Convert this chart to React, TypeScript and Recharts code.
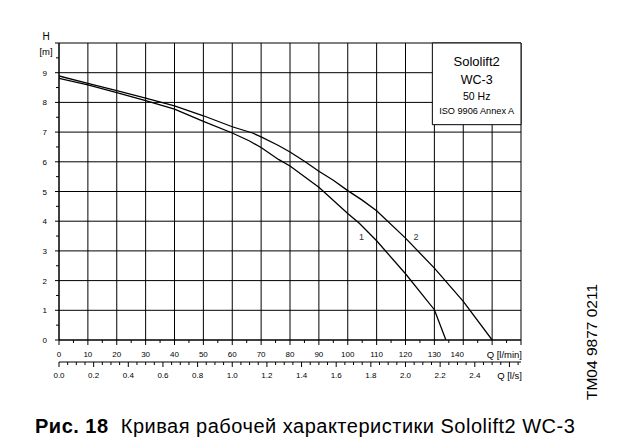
import type { ReactElement } from 'react';
import {
  CartesianGrid,
  Line,
  LineChart,
  ReferenceArea,
  ReferenceDot,
  XAxis,
  YAxis,
} from 'recharts';

// Curve 1 / curve 2 (Q in l/min, H in m).
const curve1 = [
  { q: 0, h: 8.81 },
  { q: 10, h: 8.59 },
  { q: 20, h: 8.33 },
  { q: 30, h: 8.06 },
  { q: 40, h: 7.77 },
  { q: 50, h: 7.36 },
  { q: 60, h: 6.97 },
  { q: 66, h: 6.7 },
  { q: 70, h: 6.48 },
  { q: 76, h: 6.08 },
  { q: 80, h: 5.86 },
  { q: 90, h: 5.14 },
  { q: 100, h: 4.26 },
  { q: 104, h: 3.93 },
  { q: 110, h: 3.34 },
  { q: 120, h: 2.23 },
  { q: 130, h: 1.02 },
  { q: 134, h: 0 },
];

const curve2 = [
  { q: 0, h: 8.89 },
  { q: 10, h: 8.64 },
  { q: 20, h: 8.4 },
  { q: 30, h: 8.14 },
  { q: 40, h: 7.88 },
  { q: 50, h: 7.55 },
  { q: 60, h: 7.18 },
  { q: 67, h: 6.97 },
  { q: 70, h: 6.84 },
  { q: 76, h: 6.55 },
  { q: 80, h: 6.33 },
  { q: 85, h: 6.02 },
  { q: 90, h: 5.68 },
  { q: 95, h: 5.38 },
  { q: 100, h: 5.03 },
  { q: 105, h: 4.71 },
  { q: 110, h: 4.35 },
  { q: 120, h: 3.43 },
  { q: 130, h: 2.42 },
  { q: 140, h: 1.3 },
  { q: 150, h: 0 },
];

const qTicks = [
  0, 5, 10, 15, 20, 25, 30, 35, 40, 45, 50, 55, 60, 65, 70, 75, 80, 85, 90, 95,
  100, 105, 110, 115, 120, 125, 130, 135, 140, 145, 150, 155, 160,
];
const qLabels = [0, 10, 20, 30, 40, 50, 60, 70, 80, 90, 100, 110, 120, 130, 140];
const qGrid = [0, 10, 20, 30, 40, 50, 60, 70, 80, 90, 100, 110, 120, 130, 140, 150, 160];

const hTicks = [0, 0.5, 1, 1.5, 2, 2.5, 3, 3.5, 4, 4.5, 5, 5.5, 6, 6.5, 7, 7.5, 8, 8.5, 9, 9.5, 10];
const hLabels = [0, 1, 2, 3, 4, 5, 6, 7, 8, 9];
const hGrid = [0, 1, 2, 3, 4, 5, 6, 7, 8, 9, 10];

const lsLabels = ['0.0', '0.2', '0.4', '0.6', '0.8', '1.0', '1.2', '1.4', '1.6', '1.8', '2.0', '2.2', '2.4'];
const LS_MAX = 160 / 60;
// minor ticks every 0.05 l/s along the second axis
const lsTicks = Array.from({ length: 54 }, (_, i) => Math.round(i * 5) / 100);

// curve 2 again in l/s so the second Q axis has a series bound to it
const curve2Ls = curve2.map((p) => ({ qs: p.q / 60, h: p.h }));

const legendLines = ['Sololift2', 'WC-3', '50 Hz', 'ISO 9906 Annex A'];

const FONT = '"Liberation Sans", Arial, sans-serif';

function QTick({ x, y, payload }: any): ReactElement {
  const v = payload.value as number;
  const major = v % 10 === 0;
  const label = qLabels.includes(v);
  return (
    <g>
      <line x1={x} y1={y} x2={x} y2={y + (major ? 5 : 3)} stroke="#000" />
      {label && (
        <text x={v === 140 ? x - 6 : x} y={y + 17} textAnchor="middle" fontSize={8} fontFamily={FONT} fill="#000">
          {v}
        </text>
      )}
    </g>
  );
}

function LsTick({ x, y, payload }: any): ReactElement {
  const v = payload.value as number;
  const idx = Math.round(v * 5);
  const major = Math.abs(v * 5 - idx) < 1e-6;
  return (
    <g>
      <line x1={x} y1={y} x2={x} y2={y + (major ? 5 : 3)} stroke="#000" />
      {major && lsLabels[idx] && (
        <text x={x} y={y + 16} textAnchor="middle" fontSize={8} fontFamily={FONT} fill="#000">
          {lsLabels[idx]}
        </text>
      )}
    </g>
  );
}

function HTick({ x, y, payload }: any): ReactElement {
  const v = payload.value as number;
  const major = v % 1 === 0;
  return (
    <g>
      <line x1={x} y1={y} x2={x - (major ? 4 : 3)} y2={y} stroke="#000" />
      {hLabels.includes(v) && (
        <text x={x - 12} y={y + 3} textAnchor="end" fontSize={8} fontFamily={FONT} fill="#000">
          {v}
        </text>
      )}
    </g>
  );
}

function LegendBox({ viewBox }: any): ReactElement {
  const cx = viewBox.x + viewBox.width / 2;
  const top = viewBox.y;
  const rows = [
    { dy: 23, size: 13 },
    { dy: 41, size: 12.5 },
    { dy: 57, size: 10.5 },
    { dy: 71, size: 9.2 },
  ];
  return (
    <g fontFamily={FONT} fill="#000">
      {legendLines.map((t, i) => (
        <text key={t} x={cx} y={top + rows[i].dy} textAnchor="middle" fontSize={rows[i].size}>
          {t}
        </text>
      ))}
    </g>
  );
}

export default function App(): ReactElement {
  return (
    <div style={{ position: 'absolute', left: 0, top: 0, width: 619, height: 444, background: '#fff' }}>
      <LineChart width={619} height={400} margin={{ top: 43, right: 98, bottom: 8, left: 19 }}>
        <CartesianGrid
          xAxisId="lmin"
          verticalValues={qGrid}
          horizontalValues={hGrid}
          stroke="#000"
          strokeWidth={1}
        />
        <XAxis
          xAxisId="lmin"
          dataKey="q"
          type="number"
          domain={[0, 160]}
          ticks={qTicks}
          interval={0}
          height={22}
          tickSize={0}
          tickMargin={0}
          tickLine={false}
          axisLine={{ stroke: '#000' }}
          tick={<QTick />}
          allowDataOverflow
          label={{
            content: ({ viewBox }: any) => (
              <text x={viewBox.x + viewBox.width + 1} y={viewBox.y + 18} textAnchor="end" fontSize={9.5} fontFamily={FONT}>
                Q [l/min]
              </text>
            ),
          }}
        />
        <XAxis
          xAxisId="ls"
          dataKey="qs"
          type="number"
          domain={[0, LS_MAX]}
          ticks={lsTicks}
          interval={0}
          height={30}
          tickSize={0}
          tickMargin={0}
          tickLine={false}
          axisLine={{ stroke: '#000' }}
          tick={<LsTick />}
          allowDataOverflow
          label={{
            content: ({ viewBox }: any) => (
              <text x={viewBox.x + viewBox.width + 1} y={viewBox.y + 17} textAnchor="end" fontSize={9.5} fontFamily={FONT}>
                Q [l/s]
              </text>
            ),
          }}
        />
        <YAxis
          type="number"
          domain={[0, 10]}
          ticks={hTicks}
          interval={0}
          width={40}
          tickSize={0}
          tickMargin={0}
          tickLine={false}
          axisLine={{ stroke: '#000' }}
          tick={<HTick />}
          allowDataOverflow
          label={{
            content: ({ viewBox }: any) => (
              <g fontFamily={FONT} fill="#000" textAnchor="middle">
                <text x={viewBox.x + viewBox.width - 13} y={viewBox.y - 3} fontSize={10}>
                  H
                </text>
                <text x={viewBox.x + viewBox.width - 13} y={viewBox.y + 12} fontSize={9.5}>
                  [m]
                </text>
              </g>
            ),
          }}
        />

        <ReferenceArea
          xAxisId="lmin"
          x1={129.3}
          x2={160}
          y1={7.25}
          y2={10}
          fill="#fff"
          fillOpacity={1}
          stroke="#000"
          strokeWidth={1}
          label={<LegendBox />}
        />

        <Line
          xAxisId="lmin"
          data={curve1}
          dataKey="h"
          type="linear"
          stroke="#000"
          strokeWidth={1.3}
          dot={false}
          activeDot={false}
          isAnimationActive={false}
        />
        <Line
          xAxisId="ls"
          data={curve2Ls}
          dataKey="h"
          type="linear"
          stroke="#000"
          strokeWidth={1.3}
          dot={false}
          activeDot={false}
          isAnimationActive={false}
        />

        <ReferenceDot
          xAxisId="lmin"
          x={104.8}
          y={3.48}
          r={0}
          label={{ value: '1', position: 'center', fontSize: 9, fill: '#333', fontFamily: FONT }}
        />
        <ReferenceDot
          xAxisId="lmin"
          x={123.6}
          y={3.48}
          r={0}
          label={{ value: '2', position: 'center', fontSize: 9, fill: '#333', fontFamily: FONT }}
        />
      </LineChart>

      <div
        style={{
          position: 'absolute',
          left: 592,
          top: 342,
          transform: 'translate(-50%, -50%) rotate(-90deg)',
          whiteSpace: 'nowrap',
          fontFamily: FONT,
          fontSize: 15.5,
          lineHeight: 1,
          color: '#000',
        }}
      >
        TM04 9877 0211
      </div>

      <div
        style={{
          position: 'absolute',
          left: 35,
          top: 416,
          whiteSpace: 'pre',
          fontFamily: FONT,
          fontSize: 20,
          letterSpacing: 0.5,
          lineHeight: 1,
          color: '#000',
        }}
      >
        <b>Рис. 18</b>
        {'  Кривая рабочей характеристики Sololift2 WC-3'}
      </div>
    </div>
  );
}
